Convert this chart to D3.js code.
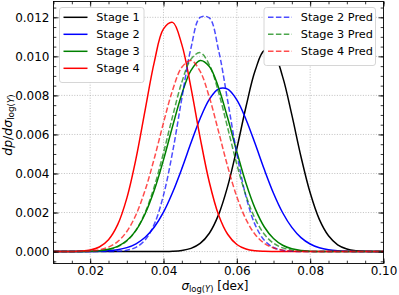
<!DOCTYPE html>
<html>
<head>
<meta charset="utf-8">
<script src="https://cdn.jsdelivr.net/npm/d3@7"></script>
<style>
  body { margin: 0; background: #fff; }
  svg { display: block; font-family: "DejaVu Sans", sans-serif; }
</style>
</head>
<body>
<div id="chart"></div>
<script>
// sample positions along sigma_log(Y) [dex]
const xs = [0.0100, 0.0125, 0.0150, 0.0175, 0.0200, 0.0225, 0.0250, 0.0275, 0.0300, 0.0325,
            0.0350, 0.0375, 0.0400, 0.0425, 0.0450, 0.0475, 0.0500, 0.0525, 0.0550, 0.0575,
            0.0600, 0.0625, 0.0650, 0.0675, 0.0700, 0.0725, 0.0750, 0.0775, 0.0800, 0.0825,
            0.0850, 0.0875, 0.0900, 0.0925, 0.0950, 0.0975, 0.1000]

// dp/dsigma
const stage1 = [0, 0, 0, 0, 0, 0, 0, 0, 0, 0,
                0.000001, 0.000002, 0.000005, 0.000018, 0.000059, 0.000166, 0.000419, 0.000941, 0.00188, 0.00334,
                0.00528, 0.00742, 0.00927, 0.01030, 0.01018, 0.00895, 0.00700, 0.00486, 0.00301, 0.00165,
                0.00081, 0.00035, 0.000136, 0.000047, 0.000014, 0.000004, 0.000001]
const stage2 = [0, 0, 0.000001, 0.000002, 0.000007, 0.000018, 0.000043, 0.000096, 0.000203, 0.000399,
                0.000733, 0.00126, 0.00202, 0.00304, 0.00425, 0.00557, 0.00682, 0.00780, 0.00833, 0.00832,
                0.00777, 0.00677, 0.00552, 0.00420, 0.00299, 0.00199, 0.00124, 0.000717, 0.000389, 0.000197,
                0.000093, 0.000041, 0.000017, 0.000007, 0.000002, 0.000001, 0]
const stage3 = [0, 0, 0.000002, 0.000006, 0.000017, 0.000047, 0.000117, 0.000268, 0.000566, 0.00109,
                0.00194, 0.00315, 0.00470, 0.00643, 0.00807, 0.00928, 0.00979, 0.00948, 0.00841, 0.00684,
                0.00511, 0.00350, 0.00220, 0.00126, 0.000668, 0.000324, 0.000144, 0.000059, 0.000022, 0.000008,
                0.000002, 0, 0, 0, 0, 0, 0]
const stage4 = [0, 0.000001, 0.000006, 0.000024, 0.000080, 0.000236, 0.000609, 0.00138, 0.00274, 0.00476,
                0.00726, 0.00972, 0.01141, 0.01174, 0.01060, 0.00839, 0.00583, 0.00355, 0.00189, 0.000888,
                0.000364, 0.000131, 0.000041, 0.000012, 0.000003, 0, 0, 0, 0, 0,
                0, 0, 0, 0, 0, 0, 0]
const pred2 = [0, 0, 0, 0, 0, 0.000001, 0.000005, 0.000019, 0.000070, 0.000220,
               0.000599, 0.00141, 0.00289, 0.00512, 0.00785, 0.01043, 0.01200, 0.01197, 0.01033, 0.00773,
               0.00502, 0.00282, 0.00137, 0.000578, 0.000211, 0.000067, 0.000018, 0.000004, 0.000001, 0,
               0, 0, 0, 0, 0, 0, 0]
const pred3 = [0, 0, 0.000001, 0.000004, 0.000013, 0.000038, 0.000101, 0.000247, 0.000545, 0.00110,
               0.00201, 0.00334, 0.00506, 0.00694, 0.00868, 0.00986, 0.01019, 0.00957, 0.00817, 0.00634,
               0.00447, 0.00287, 0.00168, 0.000887, 0.000428, 0.000188, 0.000075, 0.000027, 0.000009, 0.000003,
               0, 0, 0, 0, 0, 0, 0]
const pred4 = [0, 0.000001, 0.000004, 0.000012, 0.000035, 0.000094, 0.000229, 0.000509, 0.00103, 0.00189,
               0.00315, 0.00478, 0.00660, 0.00828, 0.00944, 0.00979, 0.00923, 0.00791, 0.00616, 0.00436,
               0.00281, 0.00165, 0.000876, 0.000424, 0.000186, 0.000075, 0.000027, 0.000009, 0.000003, 0,
               0, 0, 0, 0, 0, 0, 0]

const solidNames = ["Stage 1", "Stage 2", "Stage 3", "Stage 4"]
const predNames = ["Stage 2 Pred", "Stage 3 Pred", "Stage 4 Pred"]

const xMajor = [0.02, 0.04, 0.06, 0.08, 0.10]
const yMajor = [0, 0.002, 0.004, 0.006, 0.008, 0.010, 0.012]
const xLabels = ["0.02", "0.04", "0.06", "0.08", "0.10"]
const yLabels = ["0.000", "0.002", "0.004", "0.006", "0.008", "0.010", "0.012"]
const xMinor = d3.range(0.01, 0.1001, 0.005)
const yMinor = d3.range(-0.0005, 0.0128, 0.0005)

const solidColors = ["#000000", "#0000ff", "#008000", "#ff0000"]
const predColors = ["#0000ff", "#008000", "#ff0000"]

const W = 399, H = 295
const MARGIN = { LEFT: 53.5, RIGHT: 15.5, TOP: 1.5, BOTTOM: 31.5 }

const svg = d3.select("#chart").append("svg")
    .attr("width", W)
    .attr("height", H)

const x = d3.scaleLinear().domain([0.01, 0.10]).range([MARGIN.LEFT, W - MARGIN.RIGHT])
const y = d3.scaleLinear().domain([-0.00061, 0.01281]).range([H - MARGIN.BOTTOM, MARGIN.TOP])

svg.append("defs").append("clipPath").attr("id", "clip")
    .append("rect")
    .attr("x", MARGIN.LEFT).attr("y", MARGIN.TOP)
    .attr("width", W - MARGIN.LEFT - MARGIN.RIGHT)
    .attr("height", H - MARGIN.TOP - MARGIN.BOTTOM)

// dotted grid
const grid = svg.append("g").attr("stroke", "#b0b0b0").attr("stroke-width", 0.8)
    .attr("stroke-dasharray", "1,1.6")
grid.selectAll(".gx").data(xMajor).enter().append("line")
    .attr("x1", d => x(d)).attr("x2", d => x(d))
    .attr("y1", MARGIN.TOP).attr("y2", H - MARGIN.BOTTOM)
grid.selectAll(".gy").data(yMajor).enter().append("line")
    .attr("y1", d => y(d)).attr("y2", d => y(d))
    .attr("x1", MARGIN.LEFT).attr("x2", W - MARGIN.RIGHT)

// curves
const line = d3.line()
    .x((d, i) => x(xs[i]))
    .y(d => y(d))
    .curve(d3.curveCatmullRom.alpha(0.5))

const curves = svg.append("g").attr("clip-path", "url(#clip)").attr("fill", "none")
const solidSeries = [stage1, stage2, stage3, stage4]
solidSeries.forEach((s, i) => {
    curves.append("path")
        .attr("d", line(s))
        .attr("stroke", solidColors[i])
        .attr("stroke-width", 1.5)
})
const predSeries = [pred2, pred3, pred4]
predSeries.forEach((s, i) => {
    curves.append("path")
        .attr("d", line(s))
        .attr("stroke", predColors[i])
        .attr("stroke-width", 1.5)
        .attr("stroke-opacity", 0.7)
        .attr("stroke-dasharray", "5.5,2.4")
})

// axes, ticks pointing inward on all four sides
function styleAxis(g) {
    g.select(".domain").remove()
    g.selectAll(".tick line").attr("stroke", "#000").attr("stroke-width", 0.8)
    g.selectAll(".tick text").attr("font-size", 12).attr("fill", "#000")
        .attr("font-family", "DejaVu Sans")
}
const fmtX = d => xLabels[xMajor.indexOf(d)]
const fmtY = d => yLabels[yMajor.findIndex(v => Math.abs(v - d) < 1e-9)]

svg.append("g").attr("transform", "translate(0," + (H - MARGIN.BOTTOM) + ")")
    .call(d3.axisBottom(x).tickValues(xMajor).tickSizeInner(-5).tickSizeOuter(0).tickPadding(2.5).tickFormat(fmtX))
    .call(styleAxis)
svg.append("g").attr("transform", "translate(0," + (H - MARGIN.BOTTOM) + ")")
    .call(d3.axisBottom(x).tickValues(xMinor).tickSizeInner(-2.8).tickSizeOuter(0).tickFormat(""))
    .call(styleAxis)
svg.append("g").attr("transform", "translate(0," + MARGIN.TOP + ")")
    .call(d3.axisTop(x).tickValues(xMajor).tickSizeInner(-5).tickSizeOuter(0).tickFormat(""))
    .call(styleAxis)
svg.append("g").attr("transform", "translate(0," + MARGIN.TOP + ")")
    .call(d3.axisTop(x).tickValues(xMinor).tickSizeInner(-2.8).tickSizeOuter(0).tickFormat(""))
    .call(styleAxis)

svg.append("g").attr("transform", "translate(" + MARGIN.LEFT + ",0)")
    .call(d3.axisLeft(y).tickValues(yMajor).tickSizeInner(-5).tickSizeOuter(0).tickPadding(4).tickFormat(fmtY))
    .call(styleAxis)
svg.append("g").attr("transform", "translate(" + MARGIN.LEFT + ",0)")
    .call(d3.axisLeft(y).tickValues(yMinor).tickSizeInner(-2.8).tickSizeOuter(0).tickFormat(""))
    .call(styleAxis)
svg.append("g").attr("transform", "translate(" + (W - MARGIN.RIGHT) + ",0)")
    .call(d3.axisRight(y).tickValues(yMajor).tickSizeInner(-5).tickSizeOuter(0).tickFormat(""))
    .call(styleAxis)
svg.append("g").attr("transform", "translate(" + (W - MARGIN.RIGHT) + ",0)")
    .call(d3.axisRight(y).tickValues(yMinor).tickSizeInner(-2.8).tickSizeOuter(0).tickFormat(""))
    .call(styleAxis)

// frame
svg.append("rect")
    .attr("x", MARGIN.LEFT).attr("y", MARGIN.TOP)
    .attr("width", W - MARGIN.LEFT - MARGIN.RIGHT)
    .attr("height", H - MARGIN.TOP - MARGIN.BOTTOM)
    .attr("fill", "none").attr("stroke", "#000").attr("stroke-width", 0.9)

// legends
function legend(names, colors, dashed, bx, by, bw) {
    const g = svg.append("g")
    g.append("rect")
        .attr("x", bx).attr("y", by)
        .attr("width", bw).attr("height", 10 + names.length * 17 - 3)
        .attr("rx", 2.5)
        .attr("fill", "#fff").attr("stroke", "#cccccc").attr("stroke-width", 0.8)
    names.forEach((n, i) => {
        const cy = by + 9.8 + i * 17
        g.append("line")
            .attr("x1", bx + 4).attr("x2", bx + 28)
            .attr("y1", cy).attr("y2", cy)
            .attr("stroke", colors[i]).attr("stroke-width", 1.5)
            .attr("stroke-opacity", dashed ? 0.7 : 1)
            .attr("stroke-dasharray", dashed ? "5.5,2.4" : null)
        g.append("text")
            .attr("x", bx + 36.8).attr("y", cy).attr("dy", "0.36em")
            .attr("font-size", 11.3)
            .text(n)
    })
}
legend(solidNames, solidColors, false, 59.5, 7.5, 84.5)
legend(predNames, predColors, true, 264, 7.5, 111.5)

// axis labels (math style)
const ylab = svg.append("text")
    .attr("transform", "translate(11.5,125) rotate(-90)")
    .attr("text-anchor", "middle")
    .attr("font-size", 12.5)
ylab.append("tspan").attr("font-style", "italic").text("dp")
ylab.append("tspan").text("/")
ylab.append("tspan").attr("font-style", "italic").text("d\u03c3")
ylab.append("tspan").attr("font-size", 8.8).attr("dy", 2.6).text("log(")
ylab.append("tspan").attr("font-size", 8.8).attr("font-style", "italic").text("Y")
ylab.append("tspan").attr("font-size", 8.8).text(")")

const xlab = svg.append("text")
    .attr("x", 215).attr("y", 289.5)
    .attr("text-anchor", "middle")
    .attr("font-size", 12)
xlab.append("tspan").attr("font-style", "italic").text("\u03c3")
xlab.append("tspan").attr("font-size", 8.4).attr("dy", 2.4).text("log(")
xlab.append("tspan").attr("font-size", 8.4).attr("font-style", "italic").text("Y")
xlab.append("tspan").attr("font-size", 8.4).text(")")
xlab.append("tspan").attr("dy", -2.4).text(" [dex]")
</script>
</body>
</html>
